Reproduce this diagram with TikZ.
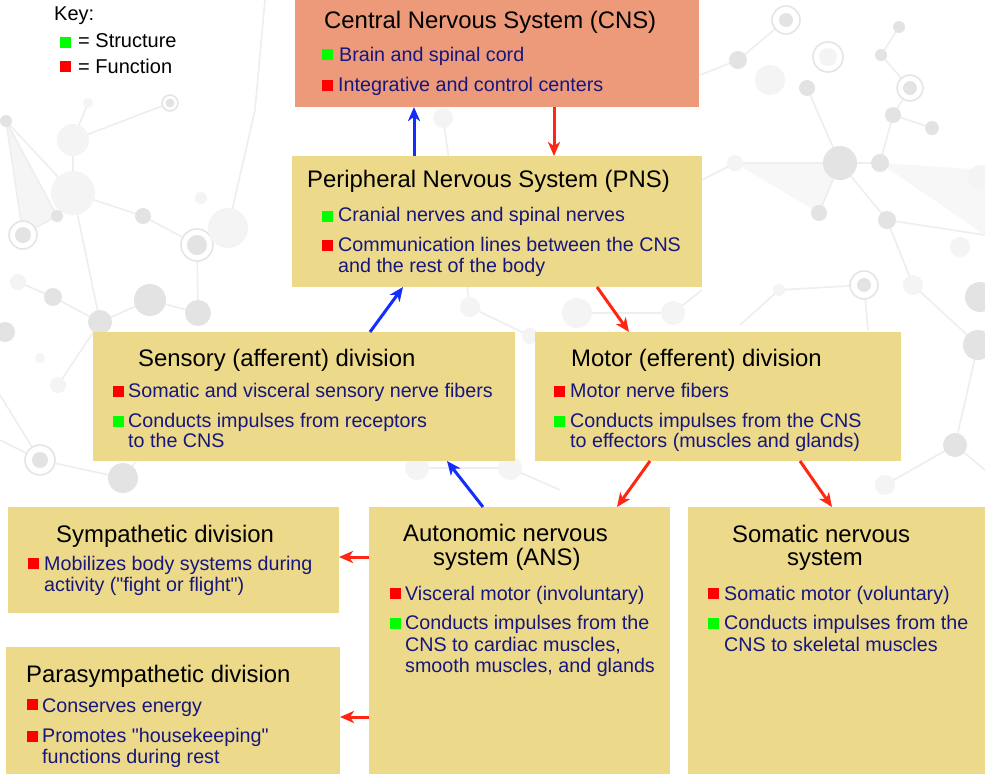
\documentclass[tikz,border=0pt]{standalone}
\usepackage{fontspec}
\setmainfont{Liberation Sans}[Ligatures=TeXOff]
\usetikzlibrary{arrows.meta}
\definecolor{salmon}{RGB}{236,154,121}
\definecolor{khaki}{RGB}{236,218,138}
\definecolor{navytxt}{RGB}{22,22,125}
\definecolor{sqgreen}{RGB}{0,255,0}
\definecolor{sqred}{RGB}{255,0,0}
\definecolor{arred}{RGB}{255,38,20}
\definecolor{arblue}{RGB}{20,45,255}
\newcommand\bsq[3]{\fill[#1] (#2,#3) rectangle ++(11,-11);}
\tikzset{
  box/.style={draw=none, inner sep=0pt, outer sep=0pt, anchor=north west},
  ttl/.style={anchor=base west, inner sep=0pt, text=black, font=\fontsize{23.9}{28}\selectfont},
  txt/.style={anchor=base west, inner sep=0pt, text=navytxt, font=\fontsize{19.7}{21}\selectfont},
  keytxt/.style={anchor=base west, inner sep=0pt, text=black, font=\fontsize{20}{22}\selectfont},
  redarr/.style={draw=arred, line width=3pt, -{Stealth[length=14pt,width=12pt,inset=4pt]}},
  bluearr/.style={draw=arblue, line width=3pt, -{Stealth[length=14pt,width=12pt,inset=4pt]}},
  bgl/.style={draw=gray!13, line width=1.6pt},
  bgc/.style={fill=gray!22},
  bgcl/.style={fill=gray!9},
  bgring/.style={draw=gray!20, line width=1.6pt, fill=white},
}
\begin{document}
\begin{tikzpicture}[x=1pt,y=-1pt]
\useasboundingbox (0,0) rectangle (985,774);
\fill[white] (0,0) rectangle (985,774);
% ---------- background network ----------
\fill[gray!8] (6,121) -- (23,235) -- (57,216) -- cycle;
\fill[gray!6] (735,163) -- (840,163) -- (819,213) -- cycle;
\fill[gray!6] (880,163) -- (985,170) -- (985,235) -- cycle;
\draw[bgl] (6,121) -- (23,235) -- (57,216) -- (6,121);
\draw[bgl] (6,121) -- (73,193) -- (143,216) -- (197,245) -- (228,228);
\draw[bgl] (73,193) -- (73,140) -- (88,103);
\draw[bgl] (73,140) -- (170,103);
\draw[bgl] (197,245) -- (198,313) -- (150,300) -- (100,322) -- (53,297);
\draw[bgl] (73,193) -- (100,322) -- (58,385);
\draw[bgl] (228,228) -- (255,110) -- (265,0);
\draw[bgl] (0,440) -- (40,460) -- (123,478) -- (160,430);
\draw[bgl] (40,460) -- (0,395);
\draw[bgl] (18,282) -- (53,297);
\draw[bgl] (700,75) -- (738,60) -- (786,20);
\draw[bgl] (899,27) -- (881,55) -- (910,88) -- (893,115) -- (932,128);
\draw[bgl] (893,115) -- (880,163) -- (840,163) -- (807,88);
\draw[bgl] (840,163) -- (735,163) -- (702,180);
\draw[bgl] (840,163) -- (819,213);
\draw[bgl] (840,163) -- (887,220) -- (985,235);
\draw[bgl] (887,220) -- (913,285) -- (978,345) -- (955,445) -- (985,470);
\draw[bgl] (864,285) -- (868,330);
\draw[bgl] (779,290) -- (740,325);
\draw[bgl] (864,285) -- (779,290);
\draw[bgl] (443,118) -- (470,307) -- (530,336);
\draw[bgl] (577,313) -- (673,313) -- (702,290);
\draw[bgl] (417,468) -- (510,468) -- (560,490);
\draw[bgl] (885,485) -- (955,445);
\fill[bgc] (6,121) circle (6);
\fill[bgcl] (73,140) circle (16);
\fill[bgcl] (88,103) circle (5);
\filldraw[bgring] (170,103) circle (8); \fill[bgc] (170,103) circle (4.5);
\fill[bgcl] (73,193) circle (22);
\fill[bgc] (57,216) circle (6);
\filldraw[bgring] (23,235) circle (14); \fill[bgc] (23,235) circle (8);
\fill[bgc] (143,216) circle (8);
\filldraw[bgring] (197,245) circle (16); \fill[bgc] (197,245) circle (10);
\fill[bgcl] (228,228) circle (20);
\fill[bgcl] (201,198) circle (6);
\fill[bgcl] (18,282) circle (8);
\fill[bgc] (53,297) circle (9);
\fill[bgc] (150,300) circle (16);
\fill[bgc] (100,322) circle (12);
\fill[bgc] (198,313) circle (13);
\fill[bgc] (5,332) circle (10);
\fill[bgcl] (40,358) circle (5);
\fill[bgcl] (58,385) circle (8);
\filldraw[bgring] (40,460) circle (15); \fill[bgc] (40,460) circle (8);
\fill[bgc] (123,478) circle (15);
\filldraw[bgring] (786,20) circle (14); \fill[bgc] (786,20) circle (7);
\fill[bgc] (738,60) circle (9);
\filldraw[bgring] (828,57) circle (15); \fill[bgcl] (828,57) circle (9);
\fill[bgcl] (770,80) circle (15);
\fill[bgc] (807,88) circle (8);
\fill[bgc] (899,27) circle (6);
\fill[bgc] (881,55) circle (6);
\filldraw[bgring] (910,88) circle (13); \fill[bgc] (910,88) circle (7);
\fill[bgc] (893,115) circle (8);
\fill[bgc] (932,128) circle (7);
\fill[bgc] (840,163) circle (17);
\fill[bgc] (880,163) circle (9);
\fill[bgcl] (735,163) circle (8);
\fill[bgc] (819,213) circle (8);
\fill[bgc] (887,220) circle (9);
\fill[bgcl] (980,177) circle (12);
\fill[bgcl] (960,247) circle (10);
\filldraw[bgring] (864,285) circle (14); \fill[bgc] (864,285) circle (7);
\fill[bgcl] (913,285) circle (10);
\fill[bgc] (980,297) circle (15);
\fill[bgc] (978,345) circle (15);
\fill[bgc] (955,445) circle (12);
\fill[bgcl] (779,290) circle (6);
\fill[bgcl] (443,118) circle (10);
\fill[bgcl] (470,307) circle (10);
\fill[bgcl] (577,313) circle (15);
\fill[bgcl] (673,313) circle (12);
\fill[bgcl] (530,336) circle (8);
\fill[bgcl] (510,468) circle (12);
\fill[bgcl] (417,468) circle (12);
\fill[bgcl] (885,485) circle (10);
% ---------- boxes ----------
\node[box, fill=salmon, minimum width=404pt, minimum height=107pt] (cns) at (295,0) {};
\node[box, fill=khaki, minimum width=410pt, minimum height=131pt] (pns) at (292,156) {};
\node[box, fill=khaki, minimum width=422pt, minimum height=129pt] (sens) at (93,332) {};
\node[box, fill=khaki, minimum width=366pt, minimum height=129pt] (mot) at (535,332) {};
\node[box, fill=khaki, minimum width=331pt, minimum height=106pt] (symp) at (8,507) {};
\node[box, fill=khaki, minimum width=301pt, minimum height=267pt] (ans) at (369,507) {};
\node[box, fill=khaki, minimum width=297pt, minimum height=267pt] (som) at (688,507) {};
\node[box, fill=khaki, minimum width=334pt, minimum height=127pt] (para) at (6,647) {};
% ---------- key ----------
\node[keytxt] (keyT) at (54,20) {Key:};
\bsq{sqgreen}{60}{48}
\node[keytxt] (keyS) at (78,47) {= Structure};
\bsq{sqred}{60}{72}
\node[keytxt] (keyF) at (78,73) {= Function};
% ---------- CNS ----------
\node[ttl] (cnsT) at (324,28) {Central Nervous System (CNS)};
\bsq{sqgreen}{322}{60}
\node[txt] (cns1) at (339,61) {Brain and spinal cord};
\bsq{sqred}{322}{91}
\node[txt] (cns2) at (338,91) {Integrative and control centers};
% ---------- PNS ----------
\node[ttl] (pnsT) at (307,187) {Peripheral Nervous System (PNS)};
\bsq{sqgreen}{322}{222}
\node[txt] (pns1) at (338,221) {Cranial nerves and spinal nerves};
\bsq{sqred}{322}{251}
\node[txt] (pns2) at (338,251) {Communication lines between the CNS};
\node[txt] (pns3) at (338,272) {and the rest of the body};
% ---------- Sensory ----------
\node[ttl] (sensT) at (138,366) {Sensory (afferent) division};
\bsq{sqred}{113}{397}
\node[txt] (sens1) at (128,397) {Somatic and visceral sensory nerve fibers};
\bsq{sqgreen}{113}{427}
\node[txt] (sens2) at (128,427) {Conducts impulses from receptors};
\node[txt] (sens3) at (128,447) {to the CNS};
% ---------- Motor ----------
\node[ttl] (motT) at (571,366) {Motor (efferent) division};
\bsq{sqred}{554}{397}
\node[txt] (mot1) at (570,397) {Motor nerve fibers};
\bsq{sqgreen}{554}{427}
\node[txt] (mot2) at (570,427) {Conducts impulses from the CNS};
\node[txt] (mot3) at (570,447) {to effectors (muscles and glands)};
% ---------- Sympathetic ----------
\node[ttl] (sympT) at (56,542) {Sympathetic division};
\bsq{sqred}{28}{569}
\node[txt] (symp1) at (44,570) {Mobilizes body systems during};
\node[txt] (symp2) at (44,591) {activity ("fight or flight")};
% ---------- Parasympathetic ----------
\node[ttl] (paraT) at (26,682) {Parasympathetic division};
\bsq{sqred}{27}{710}
\node[txt] (para1) at (42,712) {Conserves energy};
\bsq{sqred}{27}{742}
\node[txt] (para2) at (42,742) {Promotes "housekeeping"};
\node[txt] (para3) at (42,763) {functions during rest};
% ---------- ANS ----------
\node[ttl] (ansT1) at (403,541) {Autonomic nervous};
\node[ttl] (ansT2) at (433,565) {system (ANS)};
\bsq{sqred}{390}{599}
\node[txt] (ans1) at (405,600) {Visceral motor (involuntary)};
\bsq{sqgreen}{390}{629}
\node[txt] (ans2) at (405,629) {Conducts impulses from the};
\node[txt] (ans3) at (405,651) {CNS to cardiac muscles,};
\node[txt] (ans4) at (405,672) {smooth muscles, and glands};
% ---------- Somatic ----------
\node[ttl] (somT1) at (732,542) {Somatic nervous};
\node[ttl] (somT2) at (787,565) {system};
\bsq{sqred}{708}{599}
\node[txt] (som1) at (724,600) {Somatic motor (voluntary)};
\bsq{sqgreen}{708}{629}
\node[txt] (som2) at (724,629) {Conducts impulses from the};
\node[txt] (som3) at (724,651) {CNS to skeletal muscles};
% ---------- arrows ----------
\draw[bluearr] ([xshift=122pt]pns.north west) -- ([xshift=119pt]cns.south west);
\draw[redarr] ([xshift=259pt]cns.south west) -- ([xshift=262pt]pns.north west);
\draw[bluearr] ([xshift=277pt]sens.north west) -- ([xshift=111pt]pns.south west);
\draw[redarr] ([xshift=305pt]pns.south west) -- ([xshift=94pt]mot.north west);
\draw[bluearr] ([xshift=114pt]ans.north west) -- ([xshift=354pt]sens.south west);
\draw[redarr] ([xshift=115pt]mot.south west) -- ([xshift=248pt]ans.north west);
\draw[redarr] ([xshift=265pt]mot.south west) -- ([xshift=144pt]som.north west);
\draw[redarr] ([yshift=-50pt]ans.north west) -- ([yshift=-50pt]symp.north east);
\draw[redarr] ([yshift=-210pt]ans.north west) -- ([yshift=-70pt]para.north east);
\end{tikzpicture}
\end{document}
